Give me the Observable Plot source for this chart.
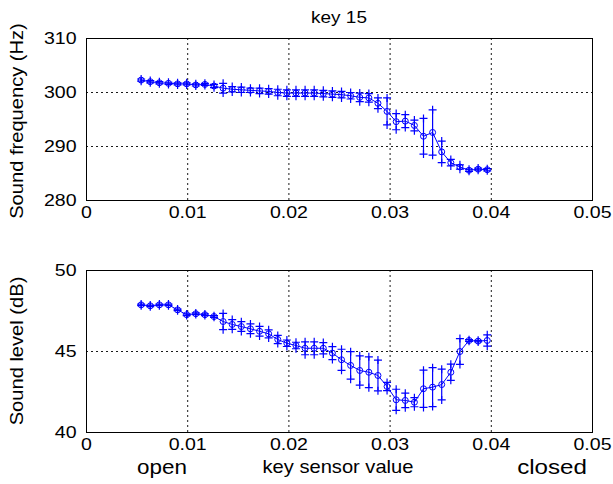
<!DOCTYPE html>
<html>
<head>
<meta charset="utf-8">
<script src="https://cdn.jsdelivr.net/npm/d3@7"></script>
<script src="https://cdn.jsdelivr.net/npm/@observablehq/plot@0.6"></script>
<style>
  html, body { margin: 0; padding: 0; background: #fff; }
  #wrap { position: relative; width: 613px; height: 484px; overflow: hidden; background: #fff; }
  #wrap svg { position: absolute; left: 0; }
</style>
</head>
<body>
<div id="wrap"></div>
<script>
// ---- data ----
const keySensor = [0.0054, 0.0063, 0.0072, 0.0081, 0.0090, 0.0099, 0.0108, 0.0117, 0.0126, 0.0135,
  0.0144, 0.0153, 0.0162, 0.0171, 0.0180, 0.0189, 0.0198, 0.0207, 0.0216, 0.0225,
  0.0234, 0.0243, 0.0252, 0.0261, 0.0270, 0.0279, 0.0288, 0.0297, 0.0306, 0.0315,
  0.0324, 0.0333, 0.0342, 0.0351, 0.0360, 0.0369, 0.0378, 0.0387, 0.0396];

const freqHz = [302.3, 302.0, 301.8, 301.7, 301.6, 301.6, 301.4, 301.5, 301.2, 300.8,
  300.6, 300.5, 300.4, 300.3, 300.2, 300.0, 299.9, 299.9, 299.9, 299.9,
  299.8, 299.7, 299.6, 299.4, 299.1, 299.0, 298.0, 296.5, 294.6, 294.7,
  293.9, 291.9, 292.6, 289.0, 287.0, 286.2, 285.6, 285.8, 285.7];
const freqErr = [0.2, 0.2, 0.2, 0.2, 0.2, 0.2, 0.2, 0.2, 0.3, 0.9,
  0.5, 0.5, 0.4, 0.5, 0.5, 0.6, 0.6, 0.6, 0.6, 0.6,
  0.6, 0.6, 0.6, 0.6, 0.8, 0.8, 1.0, 2.5, 1.5, 1.2,
  1.0, 3.3, 4.2, 2.0, 0.6, 0.4, 0.2, 0.2, 0.2];

const levelDb = [47.88, 47.82, 47.88, 47.88, 47.57, 47.27, 47.33, 47.27, 47.16, 46.85,
  46.67, 46.54, 46.40, 46.25, 46.09, 45.74, 45.51, 45.37, 45.20, 45.20,
  45.20, 44.90, 44.49, 44.14, 43.83, 43.72, 43.52, 42.84, 42.02, 41.98,
  41.87, 42.70, 42.80, 42.96, 43.72, 45.00, 45.68, 45.64, 45.68];
const levelErr = [0.05, 0.05, 0.05, 0.05, 0.05, 0.05, 0.05, 0.05, 0.05, 0.5,
  0.3, 0.3, 0.3, 0.3, 0.25, 0.25, 0.2, 0.2, 0.4, 0.4,
  0.35, 0.4, 0.65, 0.85, 0.9, 0.95, 0.95, 0.25, 0.65, 0.45,
  0.28, 1.15, 1.2, 0.95, 0.5, 0.8, 0.05, 0.05, 0.35];

const xTicks = [0, 0.01, 0.02, 0.03, 0.04, 0.05];
const freqTicks = [280, 290, 300, 310];
const levelTicks = [40, 45, 50];

const titleText = "key 15";
const freqLabel = "Sound frequency (Hz)";
const levelLabel = "Sound level (dB)";
const xLabel = "key sensor value";
const openLabel = "open";
const closedLabel = "closed";

// ---- drawing ----
const FONT = '"Liberation Sans", Arial, Helvetica, sans-serif';
const STRETCH = 1.15;
const BLUE = "#0000ff";
const wrap = document.getElementById("wrap");

function stretchTexts(svg) {
  svg.querySelectorAll("text").forEach(t => {
    const ax = parseFloat(t.getAttribute("x") || 0) || 0;
    const ay = parseFloat(t.getAttribute("y") || 0) || 0;
    const tr = t.getAttribute("transform") || "";
    t.setAttribute("transform", `${tr} translate(${ax},${ay}) scale(${STRETCH},1) translate(${-ax},${-ay})`);
  });
}

function panel(values, errs, domain, ticks, top) {
  const rows = keySensor.map((x, i) => ({x, y: values[i], lo: values[i] - errs[i], hi: values[i] + errs[i]}));
  const svg = Plot.plot({
    width: 613, height: 232,
    marginLeft: 86, marginRight: 21, marginTop: 38, marginBottom: 32,
    style: {fontFamily: FONT, fontSize: "17px", color: "black", background: "transparent", overflow: "visible"},
    x: {domain: [0, 0.05]},
    y: {domain},
    marks: [
      Plot.gridX(xTicks, {stroke: "black", strokeOpacity: 1, strokeWidth: 0.9, strokeDasharray: "2,3"}),
      Plot.gridY(ticks, {stroke: "black", strokeOpacity: 1, strokeWidth: 0.9, strokeDasharray: "2,3"}),
      Plot.frame({stroke: "black", strokeWidth: 1}),
      Plot.axisX(xTicks, {tickSize: 0, tickPadding: 5, tickFormat: d => String(d), label: null}),
      Plot.axisY(ticks, {tickSize: 0, tickPadding: 10, tickFormat: d => String(d), label: null}),
      Plot.ruleX(rows, {x: "x", y1: "lo", y2: "hi", stroke: BLUE, strokeWidth: 1.2}),
      Plot.dot(rows, {x: "x", y: "lo", symbol: "plus", r: 2.7, stroke: BLUE, strokeWidth: 1.2}),
      Plot.dot(rows, {x: "x", y: "hi", symbol: "plus", r: 2.7, stroke: BLUE, strokeWidth: 1.2}),
      Plot.line(rows, {x: "x", y: "y", stroke: BLUE, strokeWidth: 1}),
      Plot.dot(rows, {x: "x", y: "y", r: 3, stroke: BLUE, fill: "none", strokeWidth: 1})
    ]
  });
  svg.style.top = top + "px";
  stretchTexts(svg);
  wrap.appendChild(svg);
}

panel(freqHz, freqErr, [280, 310], freqTicks, 0);
panel(levelDb, levelErr, [40, 50], levelTicks, 232);

// overlay text layer
const ov = d3.create("svg")
  .attr("width", 613).attr("height", 484)
  .style("top", "0px")
  .attr("font-family", FONT)
  .attr("fill", "black");
function addText(str, x, y, size, rotate) {
  const g = ov.append("g").attr("transform", `translate(${x},${y})${rotate ? ` rotate(${rotate})` : ""}`);
  g.append("text").attr("text-anchor", "middle").attr("font-size", size)
    .attr("transform", `scale(${STRETCH},1)`).text(str);
}
addText(titleText, 339, 23, 16.5);
addText(freqLabel, 23, 121, 17.5, -90);
addText(levelLabel, 23, 351, 17.5, -90);
addText(openLabel, 162, 474, 19.5);
addText(xLabel, 338, 473, 17.5);
addText(closedLabel, 552, 474, 21);
wrap.appendChild(ov.node());
</script>
</body>
</html>
